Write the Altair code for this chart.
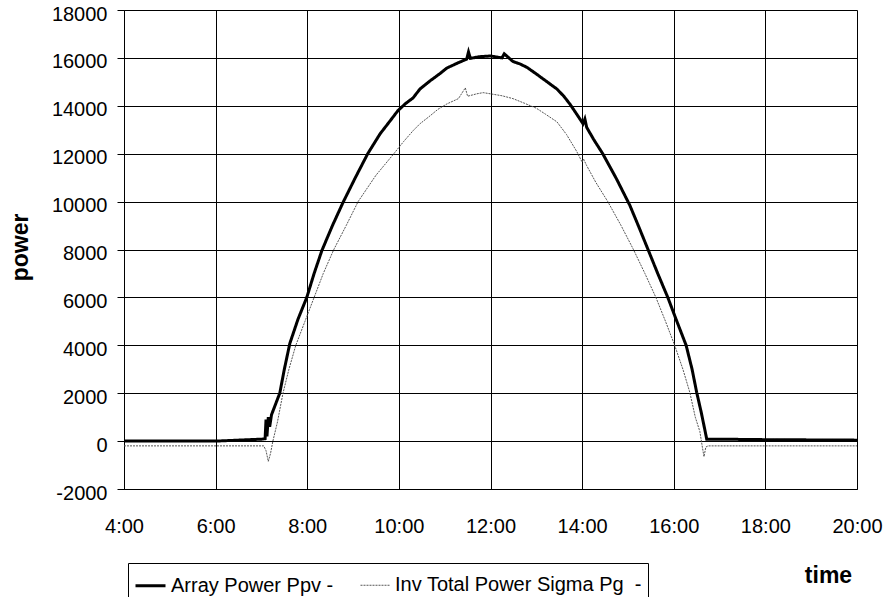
import altair as alt
import pandas as pd

# ---- data ----
series_names = ["Array Power Ppv -", "Inv Total Power Sigma Pg\u00a0\u00a0-"]

t_ppv = [4.0, 6.0, 6.5, 7.0, 7.08, 7.10, 7.12, 7.15, 7.18, 7.22, 7.30, 7.40, 7.50, 7.62,
         7.80, 7.99, 8.15, 8.32, 8.55, 8.78, 9.05, 9.32, 9.59, 9.80, 9.98, 10.15, 10.31,
         10.46, 10.68, 10.90, 11.05, 11.30, 11.48, 11.52, 11.56, 11.75, 12.00, 12.25,
         12.30, 12.49, 12.64, 12.80, 13.00, 13.20, 13.45, 13.60, 13.73, 13.90, 14.02,
         14.06, 14.10, 14.25, 14.45, 14.75, 15.04, 15.23, 15.43, 15.65, 15.87, 16.06,
         16.27, 16.40, 16.50, 16.60, 16.68, 16.72, 17.0, 18.0, 20.0]
p_ppv = [0, 0, 40, 80, 100, 900, 200, 1000, 600, 1100, 1500, 2000, 3000, 4080,
         5100, 6000, 7000, 7960, 9000, 9960, 11000, 12000, 12830, 13350, 13800, 14100, 14330,
         14700, 15040, 15350, 15580, 15800, 15950, 16250, 15980, 16050, 16080, 16000,
         16170, 15850, 15750, 15600, 15330, 15050, 14700, 14400, 14080, 13600, 13250,
         13450, 13100, 12600, 12000, 10950, 9850, 8980, 8040, 7000, 6000, 5040,
         4000, 3000, 2040, 1200, 460, 80, 80, 60, 40]

t_pg = [4.0, 7.05, 7.10, 7.15, 7.20, 7.25, 7.35, 7.47, 7.60, 7.75, 7.95, 8.15, 8.35,
        8.58, 8.85, 9.11, 9.50, 9.89, 10.10, 10.31, 10.46, 10.68, 10.85, 11.05, 11.30,
        11.45, 11.50, 11.70, 11.84, 12.00, 12.25, 12.49, 12.75, 13.00, 13.20, 13.45,
        13.66, 13.88, 14.00, 14.03, 14.10, 14.30, 14.56, 14.85, 15.12, 15.37, 15.61,
        15.82, 16.02, 16.20, 16.35, 16.47, 16.57, 16.62, 16.66, 16.70, 16.75, 20.0]
p_pg = [-200, -200, -400, -850, -500, 0, 800, 2000, 3000, 4000, 5000, 6000, 7000,
        8000, 9000, 10000, 11100, 12000, 12500, 12960, 13250, 13580, 13850, 14080, 14300,
        14750, 14400, 14500, 14550, 14500, 14420, 14300, 14100, 13900, 13650, 13330,
        12800, 12100, 11650, 11780, 11500, 10800, 10000, 9000, 8000, 7000, 6000,
        5000, 4000, 3000, 2040, 1000, 400, -200, -650, -250, -200, -200]

x_ticks = [4, 6, 8, 10, 12, 14, 16, 18, 20]
y_ticks = [-2000, 0, 2000, 4000, 6000, 8000, 10000, 12000, 14000, 16000, 18000]

df = pd.concat([
    pd.DataFrame({"t": t_ppv, "p": p_ppv, "series": series_names[0], "ord": range(len(t_ppv))}),
    pd.DataFrame({"t": t_pg, "p": p_pg, "series": series_names[1], "ord": range(len(t_pg))}),
])

FONT = "Liberation Sans"
leg = alt.Legend(title=None)

chart = alt.Chart(df).mark_line(clip=True).encode(
    x=alt.X("t:Q",
            scale=alt.Scale(domain=[4, 20], nice=False, zero=False),
            axis=alt.Axis(values=x_ticks, labelExpr="datum.value + ':00'",
                          labelFlush=False, labelOverlap=False,
                          ticks=False, labelPadding=27, title="time",
                          titleX=704, titleY=93, titleAlign="center",
                          titleBaseline="alphabetic", titleAngle=0)),
    y=alt.Y("p:Q",
            scale=alt.Scale(domain=[-2000, 18000], nice=False, zero=False),
            axis=alt.Axis(values=y_ticks, labelExpr="'' + datum.value",
                          labelFlush=False, labelOverlap=False,
                          tickSize=7, labelPadding=10,
                          labelOffset=4, title="power", titleX=-97, titleY=237,
                          titleAngle=270, titleAlign="center",
                          titleBaseline="alphabetic")),
    color=alt.Color("series:N", scale=alt.Scale(domain=series_names, range=["#000000", "#555555"]),
                    legend=leg),
    strokeWidth=alt.StrokeWidth("series:N", scale=alt.Scale(domain=series_names, range=[3, 1]),
                                legend=leg),
    strokeDash=alt.StrokeDash("series:N", scale=alt.Scale(domain=series_names, range=[[1, 0], [2, 1]]),
                              legend=leg),
    order="ord:Q",
    detail="series:N",
).properties(
    width=733,
    height=479,
    padding={"left": 124, "top": 10, "right": 31, "bottom": 108},
    autosize=alt.AutoSizeParams(type="none"),
).configure_view(
    stroke="#000000", strokeWidth=1, fill="white"
).configure(
    background="white"
).configure_axis(
    grid=True, gridColor="#000000", gridWidth=1, gridOpacity=1,
    domainColor="#000000", domainWidth=1, tickColor="#000000", tickWidth=1,
    labelFont=FONT, labelFontSize=20, labelColor="#000000",
    titleFont=FONT, titleFontSize=23, titleFontWeight="bold", titleColor="#000000",
).configure_legend(
    orient="none", legendX=4, legendY=553, direction="horizontal",
    strokeColor="#000000", fillColor="white", padding=6,
    symbolType="stroke", symbolSize=900, labelOffset=4, columnPadding=24,
    labelFont=FONT, labelFontSize=20, labelColor="#000000", labelLimit=400,
    symbolStrokeColor="#000000",
)

chart.save("out.html", embed_options={"renderer": "svg", "actions": False})
